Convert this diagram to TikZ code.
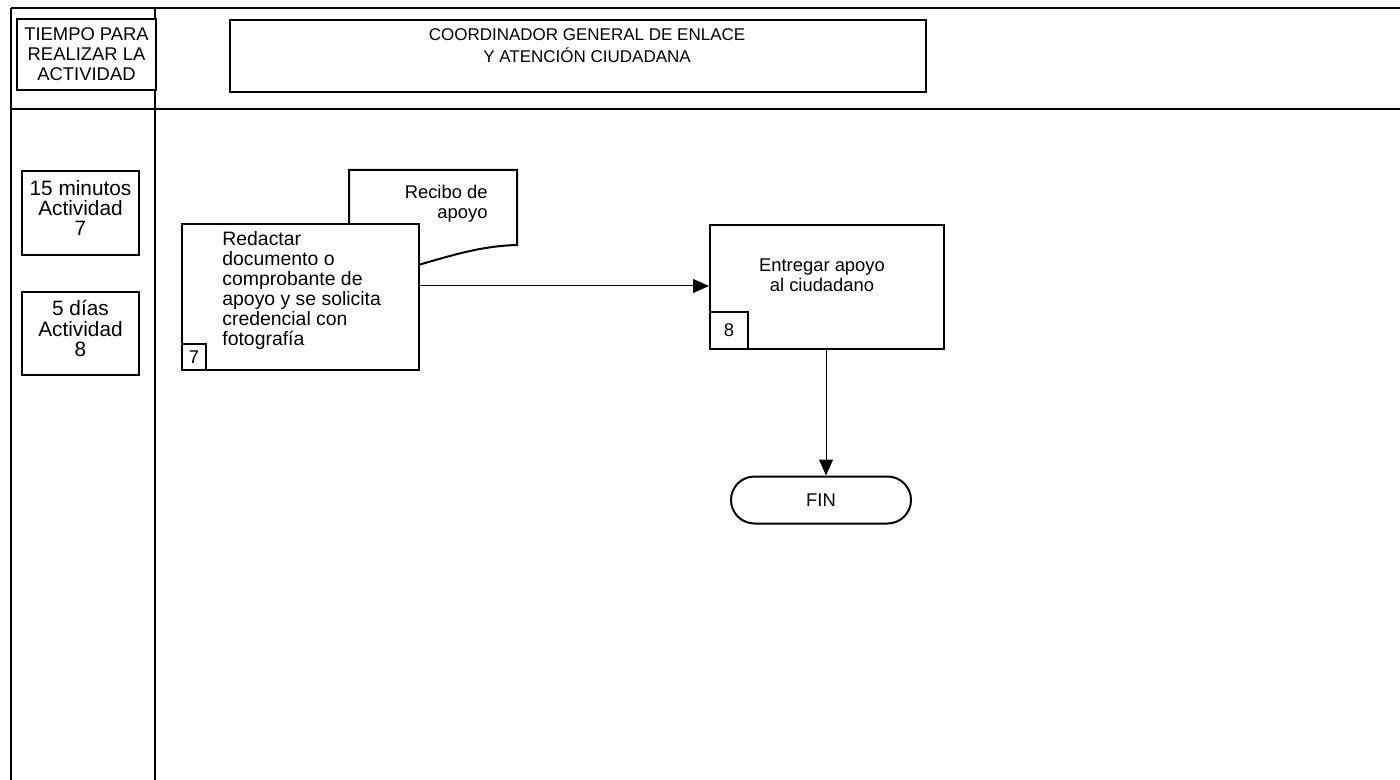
\documentclass[tikz,border=0pt]{standalone}
\usepackage{fontspec}
\setmainfont{Liberation Sans}
\usetikzlibrary{arrows.meta}
\begin{document}
\begin{tikzpicture}[x=0.5pt,y=-0.5pt,
  frame/.style={line width=0.8pt},
  box/.style={draw,line width=1pt,anchor=north west,inner sep=0pt,fill=white},
  txt/.style={inner sep=0pt,font=\fontsize{9.2}{10}\selectfont},
  conn/.style={line width=0.5pt,-{Triangle[length=8pt,width=7pt]}}]
\useasboundingbox (0,0) rectangle (1400,780);
% frame lines
\draw[frame] (11,8) -- (1400,8);
\draw[frame] (11,109) -- (1400,109);
\draw[frame] (11,8) -- (11,780);
\draw[frame] (155,8) -- (155,780);
% header boxes
\node[box,minimum width=69.5pt,minimum height=35.5pt] (tbox) at (16,18) {};
\node[txt,align=center] (ttxt) at (tbox.center) {TIEMPO PARA\\REALIZAR LA\\ACTIVIDAD};
\node[box,minimum width=348pt,minimum height=36pt] (hbox) at (229,19) {};
\node[txt,align=center,font=\fontsize{8.5}{11}\selectfont] (htxt) at (587,46) {COORDINADOR GENERAL DE ENLACE\\Y ATENCIÓN CIUDADANA};
% time boxes
\node[box,minimum width=58.5pt,minimum height=42pt] (t7) at (21,170) {};
\node[txt,align=center,font=\fontsize{10.4}{10.2}\selectfont] (t7txt) at ([yshift=2.5pt]t7.center) {15 minutos\\Actividad\\7};
\node[box,minimum width=58.5pt,minimum height=41.5pt] (t8) at (21,291) {};
\node[txt,align=center,font=\fontsize{10.4}{10.2}\selectfont] (t8txt) at ([yshift=2.5pt]t8.center) {5 días\\Actividad\\8};
% document shape
\draw[line width=1pt,fill=white] (349,240) -- (349,170) coordinate (docnw) -- (517,170) -- (517,245)
  .. controls (480,246) and (450,256) .. (418,265);
\node[txt,align=right,anchor=north east] (doctxt) at (488,185) {Recibo de\\apoyo};
% process 7
\node[box,minimum width=118.5pt,minimum height=73pt] (p7) at (181,223) {};
\node[txt,align=left,anchor=north west,font=\fontsize{9.7}{10}\selectfont] (p7txt) at (222,231) {Redactar\\documento o\\comprobante de\\apoyo y se solicita\\credencial con\\fotografía};
\node[box,minimum width=12pt,minimum height=13pt,anchor=south west] (n7) at (p7.south west) {};
\node[txt] (n7txt) at (n7.center) {7};
% process 8
\node[box,minimum width=117pt,minimum height=62pt] (p8) at (709,224) {};
\node[txt,align=center] (p8txt) at (822,275) {Entregar apoyo\\al ciudadano};
\node[box,minimum width=19pt,minimum height=18.5pt,anchor=south west] (n8) at (p8.south west) {};
\node[txt] (n8txt) at (n8.center) {8};
% terminal
\node[draw,line width=1pt,minimum width=90pt,minimum height=23.5pt,rounded corners=11.75pt,inner sep=0pt] (fin) at (821,500) {};
\node[txt] (fintxt) at (fin.center) {FIN};
% connectors
\draw[conn] (p7.east |- 0,286) -- (p8.west |- 0,286);
\draw[conn] (p8.south -| 826,0) -- (fin.north -| 826,0);
\end{tikzpicture}
\end{document}
